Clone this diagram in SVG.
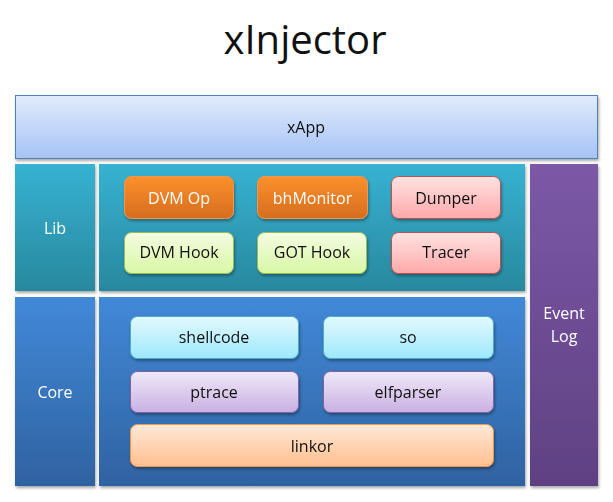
<svg xmlns="http://www.w3.org/2000/svg" width="613" height="502" viewBox="0 0 613 502">
<style>
text{font-family:"Open Sans","Liberation Sans",sans-serif;font-size:16px;text-anchor:middle;dominant-baseline:central}
.w{fill:#fff}
.k{fill:#111}
.node{stroke-width:1}
</style>
<defs>
<filter id="sh" x="-10%" y="-10%" width="130%" height="130%">
<feGaussianBlur in="SourceAlpha" stdDeviation="1.5"/>
<feOffset dx="1" dy="2" result="b"/>
<feComponentTransfer><feFuncA type="linear" slope="0.35"/></feComponentTransfer>
<feMerge><feMergeNode/><feMergeNode in="SourceGraphic"/></feMerge>
</filter>
<linearGradient id="gApp" x1="0" y1="0" x2="0" y2="1"><stop offset="0" stop-color="#e2ebfc"/><stop offset="1" stop-color="#a5c3f5"/></linearGradient>
<linearGradient id="gLib" x1="0" y1="0" x2="0" y2="1"><stop offset="0" stop-color="#37b2d2"/><stop offset="1" stop-color="#28889e"/></linearGradient>
<linearGradient id="gCore" x1="0" y1="0" x2="0" y2="1"><stop offset="0" stop-color="#4189d8"/><stop offset="1" stop-color="#2f62a0"/></linearGradient>
<linearGradient id="gEv" x1="0" y1="0" x2="0" y2="1"><stop offset="0" stop-color="#7c58a6"/><stop offset="1" stop-color="#5f4183"/></linearGradient>
<linearGradient id="gOr" x1="0" y1="0" x2="0" y2="1"><stop offset="0" stop-color="#fd912e"/><stop offset="1" stop-color="#d46d1e"/></linearGradient>
<linearGradient id="gGr" x1="0" y1="0" x2="0" y2="1"><stop offset="0" stop-color="#f4fce2"/><stop offset="1" stop-color="#d8f7a4"/></linearGradient>
<linearGradient id="gPk" x1="0" y1="0" x2="0" y2="1"><stop offset="0" stop-color="#fee2e2"/><stop offset="1" stop-color="#ffa9a9"/></linearGradient>
<linearGradient id="gCy" x1="0" y1="0" x2="0" y2="1"><stop offset="0" stop-color="#e3f9fe"/><stop offset="1" stop-color="#9de8fc"/></linearGradient>
<linearGradient id="gPu" x1="0" y1="0" x2="0" y2="1"><stop offset="0" stop-color="#f1e9f9"/><stop offset="1" stop-color="#c9b0e2"/></linearGradient>
<linearGradient id="gPe" x1="0" y1="0" x2="0" y2="1"><stop offset="0" stop-color="#ffe9d9"/><stop offset="1" stop-color="#ffbf8d"/></linearGradient>
</defs>
<rect width="613" height="502" fill="#fff"/>
<text x="305" y="38" style="font-size:40px" class="k">xInjector</text>

<g id="xApp" filter="url(#sh)">
<rect x="15.5" y="95.5" width="582" height="63" fill="url(#gApp)" stroke="#4f81bd"/>
<text x="306" y="127" class="k">xApp</text>
</g>
<g id="lib-label" filter="url(#sh)">
<rect x="15" y="164" width="80" height="127" fill="url(#gLib)"/>
<text x="55" y="228" class="w">Lib</text>
</g>
<g id="lib-area" filter="url(#sh)">
<rect x="99" y="164" width="426" height="127" fill="url(#gLib)"/>
</g>
<g id="core-label" filter="url(#sh)">
<rect x="15" y="297" width="80" height="189" fill="url(#gCore)"/>
<text x="55" y="392" class="w">Core</text>
</g>
<g id="core-area" filter="url(#sh)">
<rect x="99" y="297" width="426" height="189" fill="url(#gCore)"/>
</g>
<g id="event-log" filter="url(#sh)">
<rect x="530" y="164" width="68" height="322" fill="url(#gEv)"/>
<text x="564" y="313" class="w">Event</text>
<text x="564" y="336" class="w">Log</text>
</g>

<g id="dvm-op" filter="url(#sh)">
<rect x="124.5" y="176.5" width="109" height="42" rx="7" fill="url(#gOr)" stroke="#f79646"/>
<text x="179" y="198" class="w">DVM Op</text>
</g>
<g id="bhmonitor" filter="url(#sh)">
<rect x="257.5" y="176.5" width="110" height="42" rx="7" fill="url(#gOr)" stroke="#f79646"/>
<text x="312.5" y="198" class="w">bhMonitor</text>
</g>
<g id="dumper" filter="url(#sh)">
<rect x="391.5" y="176.5" width="109" height="42" rx="7" fill="url(#gPk)" stroke="#c0504d"/>
<text x="446" y="198" class="k">Dumper</text>
</g>
<g id="dvm-hook" filter="url(#sh)">
<rect x="124.5" y="232.5" width="109" height="41" rx="7" fill="url(#gGr)" stroke="#9bbb59"/>
<text x="179" y="252" class="k">DVM Hook</text>
</g>
<g id="got-hook" filter="url(#sh)">
<rect x="257.5" y="232.5" width="109" height="41" rx="7" fill="url(#gGr)" stroke="#9bbb59"/>
<text x="312" y="252" class="k">GOT Hook</text>
</g>
<g id="tracer" filter="url(#sh)">
<rect x="391.5" y="232.5" width="109" height="41" rx="7" fill="url(#gPk)" stroke="#c0504d"/>
<text x="446" y="252" class="k">Tracer</text>
</g>

<g id="shellcode" filter="url(#sh)">
<rect x="130.5" y="316.5" width="168" height="42" rx="7" fill="url(#gCy)" stroke="#4bacc6"/>
<text x="214" y="337" class="k">shellcode</text>
</g>
<g id="so" filter="url(#sh)">
<rect x="323.5" y="316.5" width="170" height="42" rx="7" fill="url(#gCy)" stroke="#4bacc6"/>
<text x="408" y="337" class="k">so</text>
</g>
<g id="ptrace" filter="url(#sh)">
<rect x="130.5" y="371.5" width="168" height="41" rx="7" fill="url(#gPu)" stroke="#8064a2"/>
<text x="214" y="392" class="k">ptrace</text>
</g>
<g id="elfparser" filter="url(#sh)">
<rect x="323.5" y="371.5" width="170" height="41" rx="7" fill="url(#gPu)" stroke="#8064a2"/>
<text x="408" y="392" class="k">elfparser</text>
</g>
<g id="linkor" filter="url(#sh)">
<rect x="130.5" y="424.5" width="363" height="42" rx="7" fill="url(#gPe)" stroke="#f79646"/>
<text x="312" y="446" class="k">linkor</text>
</g>
<g id="connectors"></g>
</svg>
